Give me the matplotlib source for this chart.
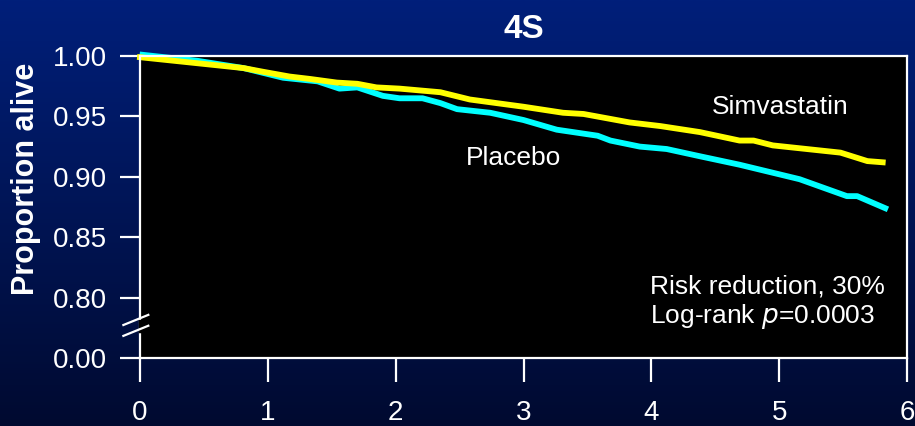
import numpy as np
import matplotlib
matplotlib.use("Agg")
import matplotlib.pyplot as plt

plt.rcParams['font.family'] = ['Liberation Sans', 'DejaVu Sans']

# survival curves, years of follow-up vs proportion alive
years_simva = [0.0, 0.45, 0.81, 0.96, 1.17, 1.33, 1.54, 1.70, 1.85, 2.03, 2.35, 2.58,
               3.00, 3.31, 3.47, 3.83, 4.07, 4.38, 4.69, 4.80, 4.95, 5.48, 5.69, 5.81]
alive_simva = [0.999, 0.994, 0.990, 0.987, 0.983, 0.981, 0.978, 0.977, 0.974, 0.973, 0.970, 0.964,
               0.958, 0.953, 0.952, 0.945, 0.942, 0.937, 0.930, 0.930, 0.926, 0.920, 0.913, 0.912]

years_placebo = [0.02, 0.45, 0.81, 1.12, 1.39, 1.56, 1.70, 1.90, 2.03, 2.21, 2.35, 2.48, 2.74,
                 3.00, 3.26, 3.58, 3.68, 3.91, 4.12, 4.38, 4.69, 5.16, 5.53, 5.61, 5.83]
alive_placebo = [1.001, 0.996, 0.990, 0.982, 0.979, 0.973, 0.974, 0.967, 0.965, 0.965, 0.961, 0.956, 0.953,
                 0.947, 0.939, 0.934, 0.930, 0.925, 0.923, 0.917, 0.910, 0.898, 0.884, 0.884, 0.874]

x_ticks = [0, 1, 2, 3, 4, 5, 6]
y_ticks = [0.75, 0.80, 0.85, 0.90, 0.95, 1.00]   # 0.75 stands in for the broken-axis zero
y_labels = ["0.00", "0.80", "0.85", "0.90", "0.95", "1.00"]

fig = plt.figure(figsize=(9.15, 4.26), dpi=100)

# navy gradient backdrop
bg = fig.add_axes([0, 0, 1, 1], zorder=-10)
grad = np.linspace(0, 1, 256).reshape(-1, 1)
top = np.array([0, 31, 122]) / 255
bot = np.array([0, 10, 48]) / 255
img = top + (bot - top) * grad[:, :, None]
bg.imshow(img, aspect="auto", extent=[0, 1, 0, 1])
bg.axis("off")

ax = fig.add_axes([140 / 915, 1 - 358 / 426, 767 / 915, 302 / 426])
ax.set_facecolor("black")

ax.plot(years_placebo, alive_placebo, color="#00FFFF", lw=4.2, solid_joinstyle="round", clip_on=False)
ax.plot(years_simva, alive_simva, color="#FFFF00", lw=4.2, solid_joinstyle="round", clip_on=False)

ax.set_xlim(0, 6)
ax.set_ylim(0.75, 1.0)
ax.set_xticks(x_ticks)
ax.set_yticks(y_ticks)
ax.set_yticklabels(y_labels)

for s in ax.spines.values():
    s.set_color("white")
    s.set_linewidth(1.6)

ax.tick_params(axis="x", colors="white", direction="out", length=17, width=1.6, pad=13, labelsize=20)
ax.tick_params(axis="y", colors="white", direction="out", length=14.5, width=1.6, pad=9, labelsize=20)

ax.set_title("4S", color="white", fontsize=24, fontweight="bold", pad=13)
fig.text(26.5 / 915, 1 - 179 / 426, "Proportion alive", color="white", fontsize=22,
         fontweight="bold", rotation=90, ha="center", va="center")

# axis break marks between 0.00 and 0.80
ax.plot([0, 0], [0.7725, 0.7805], color="black", lw=2.5, clip_on=False, zorder=5)
for y0 in (0.7725, 0.7815):
    ax.plot([-0.13, 0.065], [y0 - 0.0042, y0 + 0.0042], color="white", lw=1.6, clip_on=False, zorder=6)

ax.text(5.01, 0.958, "Simvastatin", color="white", fontsize=19, ha="center", va="center")
ax.text(2.92, 0.9156, "Placebo", color="white", fontsize=19, ha="center", va="center")
ax.text(3.99, 0.8096, "Risk reduction, 30%", color="white", fontsize=19, ha="left", va="center")
ax.text(3.99, 0.784, "Log-rank $\\it{p}$=0.0003", color="white", fontsize=19, ha="left", va="center")

fig.savefig("out.png", dpi=100, facecolor=fig.get_facecolor())
